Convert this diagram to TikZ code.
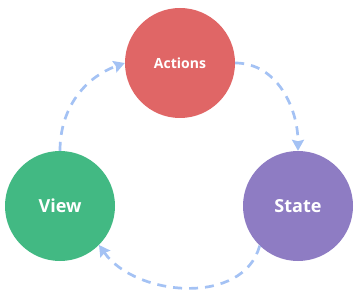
\documentclass[tikz,border=0pt]{standalone}
\usepackage{fontspec}
\setmainfont{Open Sans}
\usepackage{tikz}
\usetikzlibrary{
  arrows.meta,
  positioning
}
\definecolor{actionsred}{HTML}{E06666}
\definecolor{viewgreen}{HTML}{42B983}
\definecolor{statepurple}{HTML}{8E7CC3}
\definecolor{flowblue}{HTML}{A4C2F4}
\tikzset{
  bubble/.style={circle, minimum size=110pt, inner sep=0pt, text=white, font=\bfseries},
  flow/.style={draw=flowblue, line width=2.7pt, dash pattern=on 9pt off 7pt,
    -{Stealth[inset=1.5pt, length=11pt, width=12pt, fill=flowblue]}}
}

\begin{document}
\begin{tikzpicture}[x=1pt,y=1pt]
\useasboundingbox (0,0) rectangle (361,289);
\node[bubble, fill=actionsred, font=\bfseries\fontsize{14}{16}\selectfont] (actions) at (180,226) {Actions};
\node[bubble, fill=viewgreen, font=\bfseries\fontsize{18}{20}\selectfont] (view) at (60,83) {View};
\node[bubble, fill=statepurple, font=\bfseries\fontsize{18}{20}\selectfont] (state) at (298,83) {State};
\draw[flow] (view.north) to[out=90, in=200] (actions.west);
\draw[flow] (actions.east) to[out=0, in=90] (state.north);
\draw[flow] (state.-134) to[out=-105, in=-55] (view.-45);
\end{tikzpicture}
\end{document}
